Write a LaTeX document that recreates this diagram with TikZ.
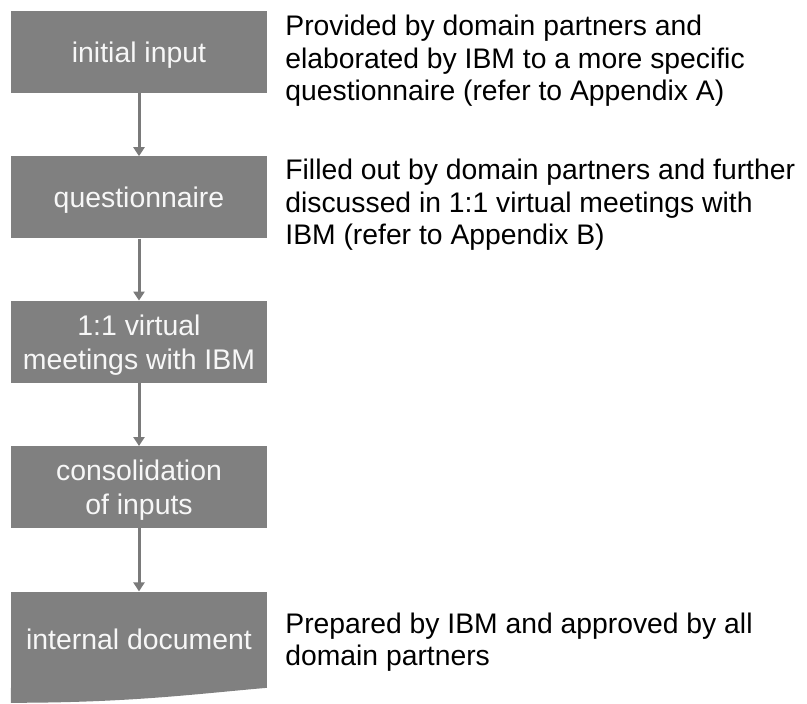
\documentclass[tikz,border=0pt]{standalone}
\usepackage{fontspec}
\setmainfont{Liberation Sans}
\usetikzlibrary{positioning,arrows.meta}

\definecolor{boxgray}{HTML}{808080}
\definecolor{flowgray}{HTML}{7A7A7A}
\definecolor{boxtext}{HTML}{F7F7F7}

\tikzset{
  phase/.style={fill=boxgray, text=boxtext, minimum width=256pt, minimum height=82pt,
    inner sep=0pt, text depth=0pt, align=center, font=\fontsize{28.4}{34}\selectfont},
  flow/.style={draw=flowgray, line width=3pt, -{Triangle[width=11pt,length=9pt]}},
  remark/.style={anchor=north west, inner sep=0pt, align=left,
    font=\fontsize{28.3}{32.5}\selectfont}
}

\begin{document}
\begin{tikzpicture}
\useasboundingbox (0,0) rectangle (807pt,-704pt);

%% steps of the procedure
\node[phase] (init) at (139pt,-52pt) {initial input};
\node[phase, below=63pt of init] (quest) {questionnaire};
\node[phase, below=62pt of quest] (meet) {1:1 virtual\\meetings with IBM};
\node[phase, below=63pt of meet] (consol) {consolidation\\of inputs};
\node[phase, minimum height=96pt, below=63pt of consol] (doc) {internal document};
% wavy bottom edge of the document
\fill[boxgray] (doc.south west) -- ++(0,-15pt)
  .. controls +(120pt,0pt) and +(-70pt,-6pt) .. (doc.south east) -- cycle;

% connectors
\foreach \a/\b in {init/quest, quest/meet, meet/consol, consol/doc}
  \draw[flow] (\a) -- (\b);

%% comments on the right
\node[remark, xshift=18pt, yshift=-4pt] (c1) at (init.north east)
  {Provided by domain partners and\\elaborated by IBM to a more specific\\questionnaire (refer to Appendix A)};
\node[remark, xshift=18pt, yshift=-3pt] (c2) at (quest.north east)
  {Filled out by domain partners and further\\discussed in 1:1 virtual meetings with\\IBM (refer to Appendix B)};
\node[remark, xshift=18pt, yshift=-21pt] (c5) at (doc.north east)
  {Prepared by IBM and approved by all\\domain partners};

\end{tikzpicture}
\end{document}
